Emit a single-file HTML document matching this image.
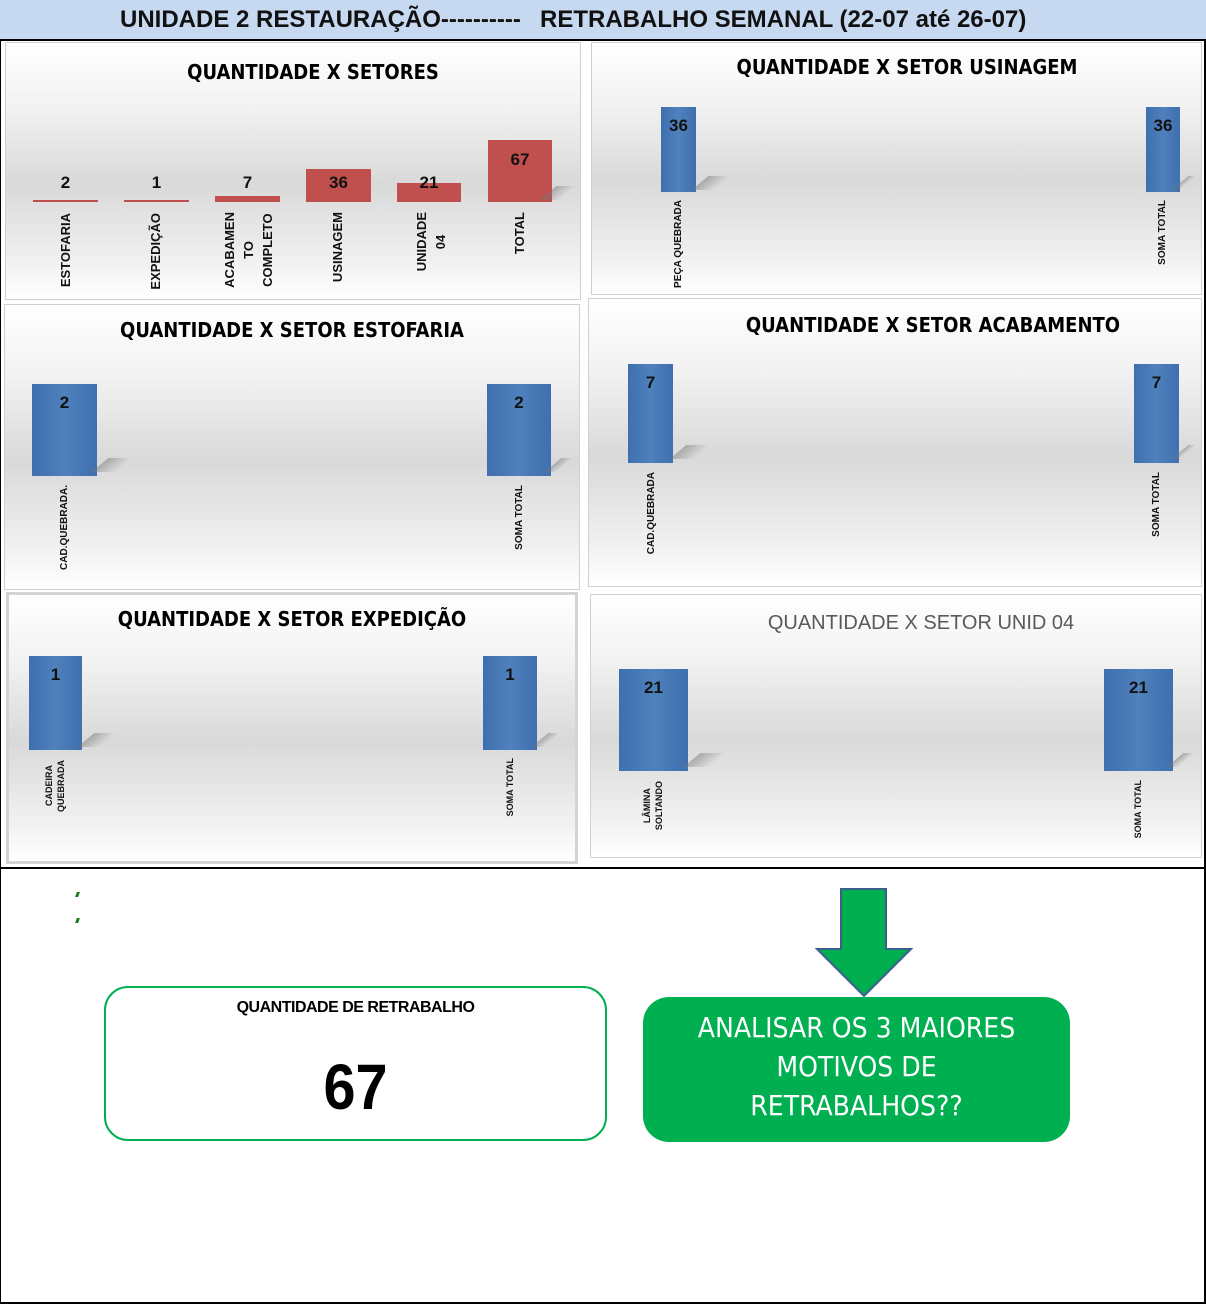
<!DOCTYPE html>
<html><head><meta charset="utf-8"><style>
*{margin:0;padding:0;box-sizing:border-box}
body{width:1206px;height:1304px;position:relative;background:#fff;font-family:"Liberation Sans",sans-serif;overflow:hidden}
.a{position:absolute}
.hdr{left:0;top:0;width:1206px;height:41px;background:#c6d9f1;border-bottom:2px solid #000;font-weight:bold;font-size:24px;line-height:40px;color:#111}
.p{position:absolute;border:1px solid #d0d0d0;background:linear-gradient(#fff 0%,#f2f2f2 25%,#d9d9d9 55%,#f0f0f0 85%,#fff 100%)}
.t{position:absolute;left:0;width:100%;text-align:center;font-weight:bold;font-size:20px;color:#000;font-family:"DejaVu Sans Condensed","Liberation Sans Narrow","Liberation Sans",sans-serif}
.b{position:absolute;background:linear-gradient(90deg,#3f6fae,#4f81bd 50%,#3f6fae);}
.r{position:absolute;background:#c0504d}
.v{position:absolute;font-weight:bold;font-size:17px;text-align:center;color:#111}
.l{position:absolute;writing-mode:vertical-rl;transform:rotate(180deg);font-weight:bold;font-size:13px;color:#111;line-height:14px;white-space:nowrap;text-align:center}
.s{font-size:10px;line-height:11px}
.sh{position:absolute;height:14px;background:linear-gradient(90deg,rgba(120,120,120,.5),rgba(150,150,150,0));transform:skewX(-50deg)}
</style></head><body>
<div class="a hdr"><span class="a" style="left:120px">UNIDADE 2 RESTAURAÇÃO----------</span><span class="a" style="left:540px">RETRABALHO SEMANAL (22-07 até 26-07)</span></div>
<div class="a" style="left:0;top:40px;width:1px;height:1264px;background:#000"></div>
<div class="a" style="left:1204px;top:40px;width:2px;height:1264px;background:#000"></div>
<div class="a" style="left:0;top:1302px;width:1206px;height:2px;background:#000"></div>
<div class="a" style="left:0;top:867px;width:1206px;height:2px;background:#000"></div>

<!-- P1 -->
<div class="p" style="left:5px;top:42px;width:576px;height:258px"></div>
<div class="t" style="left:5px;width:616px;top:60px">QUANTIDADE X SETORES</div>
<div class="r" style="left:33px;top:200px;width:65px;height:2px"></div>
<div class="r" style="left:124px;top:200px;width:65px;height:2px"></div>
<div class="r" style="left:215px;top:196px;width:65px;height:6px"></div>
<div class="r" style="left:306px;top:169px;width:65px;height:33px"></div>
<div class="r" style="left:397px;top:183px;width:64px;height:19px"></div>
<div class="r" style="left:488px;top:140px;width:64px;height:62px"></div>
<div class="sh" style="left:548px;top:186px;width:20px"></div>
<div class="v" style="left:33px;width:65px;top:173px">2</div>
<div class="v" style="left:124px;width:65px;top:173px">1</div>
<div class="v" style="left:215px;width:65px;top:173px">7</div>
<div class="v" style="left:306px;width:65px;top:173px">36</div>
<div class="v" style="left:397px;width:64px;top:173px">21</div>
<div class="v" style="left:488px;width:64px;top:150px">67</div>
<div class="l" style="left:59px;top:213px">ESTOFARIA</div>
<div class="l" style="left:149px;top:213px">EXPEDIÇÃO</div>
<div class="l" style="left:220px;top:212px;line-height:19px">ACABAMEN<br>TO<br>COMPLETO</div>
<div class="l" style="left:331px;top:212px">USINAGEM</div>
<div class="l" style="left:412px;top:212px;line-height:19px">UNIDADE<br>04</div>
<div class="l" style="left:513px;top:212px">TOTAL</div>

<!-- P2 -->
<div class="p" style="left:591px;top:42px;width:611px;height:253px"></div>
<div class="t" style="left:591px;width:632px;top:55px">QUANTIDADE X SETOR USINAGEM</div>
<div class="b" style="left:661px;top:107px;width:35px;height:85px"></div>
<div class="b" style="left:1146px;top:107px;width:34px;height:85px"></div>
<div class="sh" style="left:700px;top:176px;width:22px"></div>
<div class="sh" style="left:1180px;top:176px;width:8px"></div>
<div class="v" style="left:661px;width:35px;top:116px">36</div>
<div class="v" style="left:1146px;width:34px;top:116px">36</div>
<div class="l s" style="left:673px;top:200px">PEÇA QUEBRADA</div>
<div class="l s" style="left:1157px;top:200px">SOMA TOTAL</div>

<!-- P3 -->
<div class="p" style="left:4px;top:304px;width:576px;height:286px"></div>
<div class="t" style="left:4px;width:576px;top:318px">QUANTIDADE X SETOR ESTOFARIA</div>
<div class="b" style="left:32px;top:384px;width:65px;height:92px"></div>
<div class="b" style="left:487px;top:384px;width:64px;height:92px"></div>
<div class="sh" style="left:100px;top:458px;width:24px"></div>
<div class="sh" style="left:553px;top:458px;width:12px"></div>
<div class="v" style="left:32px;width:65px;top:393px">2</div>
<div class="v" style="left:487px;width:64px;top:393px">2</div>
<div class="l s" style="left:59px;top:485px">CAD.QUEBRADA.</div>
<div class="l s" style="left:514px;top:485px">SOMA TOTAL</div>

<!-- P4 -->
<div class="p" style="left:588px;top:298px;width:614px;height:289px"></div>
<div class="t" style="left:588px;width:690px;top:313px">QUANTIDADE X SETOR ACABAMENTO</div>
<div class="b" style="left:628px;top:364px;width:45px;height:99px"></div>
<div class="b" style="left:1134px;top:364px;width:45px;height:99px"></div>
<div class="sh" style="left:678px;top:445px;width:24px"></div>
<div class="sh" style="left:1180px;top:445px;width:8px"></div>
<div class="v" style="left:628px;width:45px;top:373px">7</div>
<div class="v" style="left:1134px;width:45px;top:373px">7</div>
<div class="l s" style="left:646px;top:472px">CAD.QUEBRADA</div>
<div class="l s" style="left:1151px;top:472px">SOMA TOTAL</div>

<!-- P5 -->
<div class="p" style="left:6px;top:592px;width:572px;height:272px;border:3px solid #d4d4d4"></div>
<div class="t" style="left:6px;width:572px;top:607px">QUANTIDADE X SETOR EXPEDIÇÃO</div>
<div class="b" style="left:29px;top:656px;width:53px;height:94px"></div>
<div class="b" style="left:483px;top:656px;width:54px;height:94px"></div>
<div class="sh" style="left:86px;top:733px;width:22px"></div>
<div class="sh" style="left:540px;top:733px;width:12px"></div>
<div class="v" style="left:29px;width:53px;top:665px">1</div>
<div class="v" style="left:483px;width:54px;top:665px">1</div>
<div class="l s" style="left:43px;top:760px;font-size:9px;line-height:12px">CADEIRA<br>QUEBRADA</div>
<div class="l s" style="left:505px;top:758px;font-size:9px">SOMA TOTAL</div>

<!-- P6 -->
<div class="p" style="left:590px;top:594px;width:612px;height:264px"></div>
<div class="a" style="left:590px;width:662px;top:612px;text-align:center;font-size:20px;color:#595959">QUANTIDADE X SETOR UNID 04</div>
<div class="b" style="left:619px;top:669px;width:69px;height:102px"></div>
<div class="b" style="left:1104px;top:669px;width:69px;height:102px"></div>
<div class="sh" style="left:692px;top:753px;width:26px"></div>
<div class="sh" style="left:1175px;top:753px;width:12px"></div>
<div class="v" style="left:619px;width:69px;top:678px">21</div>
<div class="v" style="left:1104px;width:69px;top:678px">21</div>
<div class="l s" style="left:641px;top:781px;font-size:9px;line-height:12px">LÂMINA<br>SOLTANDO</div>
<div class="l s" style="left:1133px;top:780px;font-size:9px">SOMA TOTAL</div>

<!-- bottom -->
<div class="a" style="left:76px;top:892px;width:3px;height:5px;background:#1a7a1a;transform:skewX(-20deg)"></div>
<div class="a" style="left:76px;top:918px;width:3px;height:5px;background:#1a7a1a;transform:skewX(-20deg)"></div>

<div class="a" style="left:104px;top:986px;width:503px;height:155px;border:2px solid #00b050;border-radius:24px;background:#fff"></div>
<div class="a" style="left:104px;width:503px;top:999px;text-align:center;font-size:16px;font-weight:bold;letter-spacing:-0.5px">QUANTIDADE DE RETRABALHO</div>
<div class="a" style="left:104px;width:503px;top:1050px;text-align:center;font-size:64px;font-weight:bold;transform:scaleX(0.9)">67</div>

<svg class="a" style="left:812px;top:886px" width="104" height="114"><polygon points="29,3 74,3 74,63 99,63 52,110 5,63 29,63" fill="#00b050" stroke="#3b5f8a" stroke-width="2"/></svg>

<div class="a" style="left:643px;top:997px;width:427px;height:145px;background:#00b050;border-radius:26px;color:#fff;text-align:center;font-size:28px;line-height:39px;padding-top:11px;font-family:'DejaVu Sans Condensed','Liberation Sans Narrow',sans-serif">ANALISAR OS 3 MAIORES<br>MOTIVOS DE<br>RETRABALHOS??</div>
</body></html>
